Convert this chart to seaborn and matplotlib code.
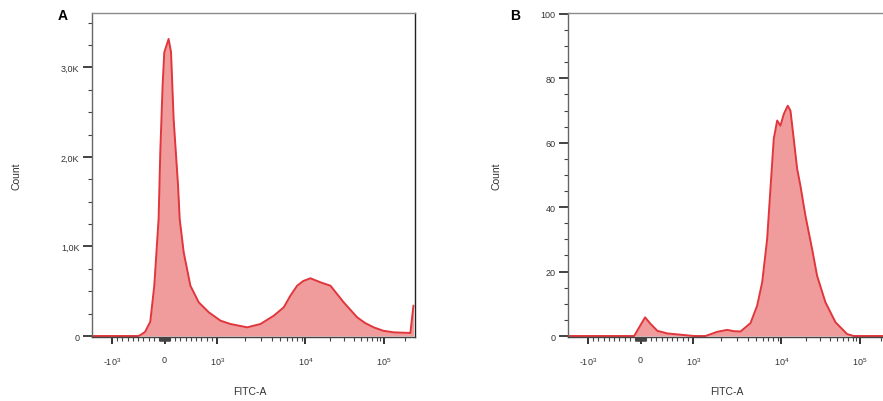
import numpy as np
import pandas as pd
import matplotlib
matplotlib.use("Agg")
import matplotlib.pyplot as plt
import seaborn as sns
from matplotlib.ticker import FixedLocator, FixedFormatter, MultipleLocator

# ---------------- data ----------------
A_fitc = [-1640, -500, -460, -370, -270, -194, -112, -80, -36, -4, 78, 124, 173, 257,
          288, 364, 491, 650, 840, 1086, 1393, 2124, 2992, 4246, 5546, 6590, 7962, 9400,
          11482, 15205, 20230, 29720, 44260, 56400, 73280, 98400, 137400, 236600, 262144]
A_count = [0, 0, 10, 45, 160, 562, 1307, 2052, 2796, 3169, 3318, 3169, 2424, 1679,
           1307, 935, 562, 376, 265, 171, 134, 97, 134, 227, 321, 447, 562, 614,
           645, 600, 562, 376, 209, 145, 97, 59, 41, 34, 340]

B_fitc = [-1640, -121, 87, 194, 321, 509, 760, 1014, 1359, 1824, 2355, 2793, 3327,
          4325, 5164, 5916, 6761, 7396, 8091, 8892, 9727, 10666, 11912, 12853, 14093,
          15524, 17022, 19634, 23823, 27542, 35156, 47424, 67608, 82985, 276000]
B_count = [0, 0, 5.8, 3.7, 1.6, 0.8, 0.4, 0, 0, 1.3, 1.9, 1.5, 1.4,
           4.0, 9.4, 16.7, 30.1, 45.7, 61.2, 66.9, 65.3, 68.9, 71.5, 70.0, 61.2,
           51.9, 46.7, 37.4, 27.0, 18.7, 10.5, 4.3, 0.6, 0, 0]

x_major = [-1000, 0, 1000, 10000, 100000]
x_major_labels = [r"-$10^3$", "0", r"$10^3$", r"$10^4$", r"$10^5$"]
A_y_major = [0, 1000, 2000, 3000]
A_y_labels = ["0", "1,0K", "2,0K", "3,0K"]
B_y_major = [0, 20, 40, 60, 80, 100]
B_y_labels = ["0", "20", "40", "60", "80", "100"]

# ---------------- biexponential-like display scale ----------------
L, QA, QB = 52.75, 93.3, -5.0


def fwd(x):
    x = np.asarray(x, dtype=float)
    ax_ = np.abs(x)
    lin = ax_ * L / 1000.0
    t = np.log10(np.maximum(ax_, 1000.0)) - 3.0
    lg = L + QA * t + QB * t * t
    return np.sign(x) * np.where(ax_ <= 1000.0, lin, lg)


def inv(u):
    u = np.asarray(u, dtype=float)
    au = np.abs(u)
    lin = au * 1000.0 / L
    d = np.maximum(au - L, 0.0)
    disc = np.maximum(QA * QA + 4 * QB * d, 1e-9)
    t = (-QA + np.sqrt(disc)) / (2 * QB)
    lg = 10 ** (3.0 + t)
    return np.sign(u) * np.where(au <= L, lin, lg)


minor = (list(range(-900, 0, 100)) + list(range(-90, 0, 10)) + list(range(10, 100, 10))
         + list(range(100, 1000, 100)) + list(range(2000, 10000, 1000))
         + list(range(20000, 100000, 10000)) + [200000])

sns.set_style("ticks")
plt.rcParams["font.family"] = ["Liberation Sans", "DejaVu Sans"]
plt.rcParams["mathtext.fontset"] = "custom"
plt.rcParams["mathtext.rm"] = "Liberation Sans"
plt.rcParams["mathtext.it"] = "Liberation Sans"

FILL = "#f09c9c"
LINE = "#e0363c"
TXT = "#333333"

W, H = 883, 402
fig = plt.figure(figsize=(W / 100, H / 100), dpi=100)
axA = fig.add_axes([92 / W, (H - 338) / H, 323 / W, 324 / H])
axB = fig.add_axes([568 / W, (H - 338) / H, 323 / W, 324 / H])

panels = [
    (axA, A_fitc, A_count, A_y_major, A_y_labels, 250, (-11, 3608)),
    (axB, B_fitc, B_count, B_y_major, B_y_labels, 5, (-0.31, 100.3)),
]

for ax, fx, cy, ymaj, ylab, ymin_step, ylim in panels:
    df = pd.DataFrame({"FITC-A": fx, "Count": cy})
    ax.fill_between(df["FITC-A"], 0, df["Count"], color=FILL, lw=0, zorder=1)
    sns.lineplot(data=df, x="FITC-A", y="Count", ax=ax, color=LINE, lw=1.4,
                 sort=False, zorder=2)
    ax.set_xscale("function", functions=(fwd, inv))
    ax.set_xlim(-1640, 276000)
    ax.set_ylim(*ylim)
    ax.xaxis.set_major_locator(FixedLocator(x_major))
    ax.xaxis.set_major_formatter(FixedFormatter(x_major_labels))
    ax.xaxis.set_minor_locator(FixedLocator(minor))
    ax.yaxis.set_major_locator(FixedLocator(ymaj))
    ax.yaxis.set_major_formatter(FixedFormatter(ylab))
    ax.yaxis.set_minor_locator(MultipleLocator(ymin_step))
    ax.set_xlabel("")
    ax.set_ylabel("")
    ax.tick_params(axis="y", which="major", length=6.5, width=1.2, color="#222222",
                   labelsize=6.5, labelcolor=TXT, pad=2.5)
    ax.tick_params(axis="y", which="minor", length=3, width=0.8, color="#444444")
    ax.tick_params(axis="x", which="major", length=5, width=1.3, color="#222222",
                   labelsize=6.5, labelcolor=TXT, pad=8)
    ax.tick_params(axis="x", which="minor", length=3, width=0.8, color="#444444")
    for side in ["top", "right", "left", "bottom"]:
        ax.spines[side].set_visible(True)
        ax.spines[side].set_linewidth(1.0)
    ax.spines["top"].set_color("#8a8a8a")
    ax.spines["left"].set_color("#666666")
    ax.spines["right"].set_color("#222222")
    ax.spines["bottom"].set_color("#444444")
    ax.set_facecolor("white")

fig.text(250 / W, 1 - 392 / H, "FITC-A", ha="center", va="center", fontsize=7.5, color=TXT)
fig.text(727 / W, 1 - 392 / H, "FITC-A", ha="center", va="center", fontsize=7.5, color=TXT)
fig.text(16 / W, 1 - 176 / H, "Count", ha="center", va="center", rotation=90, fontsize=7.5, color=TXT)
fig.text(497 / W, 1 - 176 / H, "Count", ha="center", va="center", rotation=90, fontsize=7.5, color=TXT)
fig.text(63 / W, 1 - 16 / H, "A", ha="center", va="center", fontsize=10, fontweight="bold", color="black")
fig.text(515 / W, 1 - 16 / H, "B", ha="center", va="center", fontsize=10, fontweight="bold", color="black")

fig.savefig("out.png", dpi=100, facecolor="white")
